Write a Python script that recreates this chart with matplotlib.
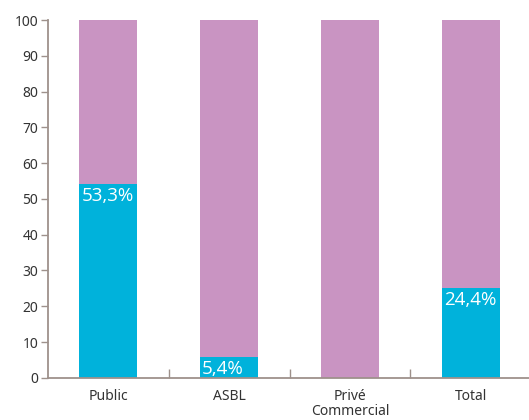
import matplotlib
matplotlib.use("Agg")
import matplotlib.pyplot as plt
import numpy as np

categories = ["Public", "ASBL", "Privé\nCommercial", "Total"]
blue_values = [54.1, 5.8, 0.0, 25.1]
total_values = [100, 100, 100, 100]
bar_labels = ["53,3%", "5,4%", "", "24,4%"]
yticks = [0, 10, 20, 30, 40, 50, 60, 70, 80, 90, 100]

BLUE = "#00b2db"
PURPLE = "#c994c2"
AXIS = "#9e918b"
TEXT = "#333333"

plt.rcParams['font.family'] = ['Noto Sans', 'DejaVu Sans']

fig = plt.figure(figsize=(5.29, 4.20), dpi=100)
ax = fig.add_axes([48/529, (420-377.8)/420, 483/529, (377.8-20)/420])

x = np.arange(len(categories))
purple_values = [t - b for t, b in zip(total_values, blue_values)]
ax.bar(x, blue_values, width=0.48, color=BLUE, linewidth=0)
ax.bar(x, purple_values, bottom=blue_values, width=0.48, color=PURPLE, linewidth=0)

for xi, v, lab in zip(x, blue_values, bar_labels):
    if lab:
        ax.annotate(lab, xy=(xi - 0.24, v), xytext=(1.5, -2), textcoords="offset points",
                    ha="left", va="top", color="white", fontsize=13.5,
                    family=["Open Sans", "DejaVu Sans"], fontweight="normal")

ax.set_xlim(-0.5, len(categories) - 0.5)
ax.set_ylim(0, 100)
ax.set_yticks(yticks)
ax.set_yticklabels([str(t) for t in yticks], fontsize=10, color=TEXT)
ax.set_xticks(x)
ax.set_xticklabels(categories, fontsize=10, color=TEXT, linespacing=1.05)
ax.set_xticks(np.arange(len(categories) - 1) + 0.5, minor=True)

ax.tick_params(axis="y", length=5, width=1, color=AXIS, pad=2)
ax.tick_params(axis="x", which="major", length=0, pad=8)
ax.tick_params(axis="x", which="minor", direction="in", length=6.5, width=1, color=AXIS)

for s in ["top", "right"]:
    ax.spines[s].set_visible(False)
for s in ["left", "bottom"]:
    ax.spines[s].set_color(AXIS)
    ax.spines[s].set_linewidth(1.3)

fig.savefig("out.png", dpi=100)
